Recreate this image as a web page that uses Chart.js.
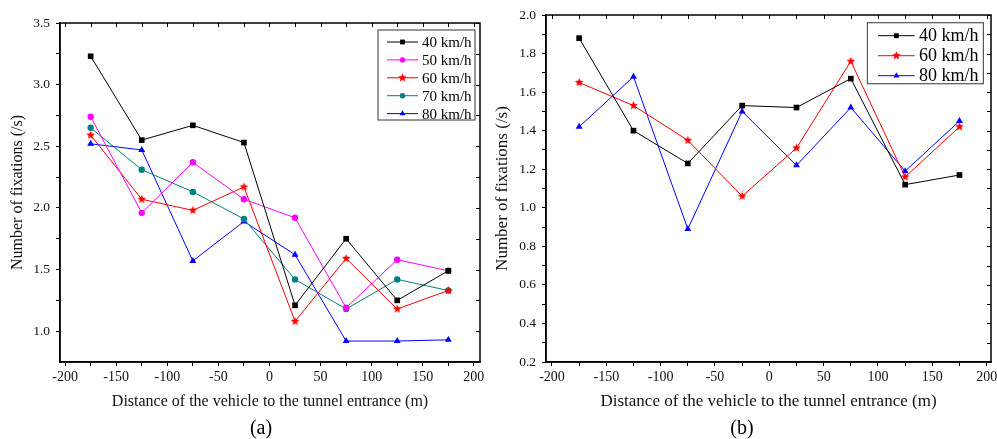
<!DOCTYPE html>
<html>
<head>
<meta charset="utf-8">
<script src="https://cdn.jsdelivr.net/npm/chart.js@4.4.1/dist/chart.umd.min.js"></script>
<style>
  html, body { margin: 0; padding: 0; background: #fff; overflow: hidden; }
  body { width: 997px; height: 439px; position: relative; }
  canvas { position: absolute; top: 0; }
  #chartA { left: 0; }
  #chartB { left: 490px; }
  .cap { position: absolute; top: 416px; line-height: 24px; font: 20px 'Liberation Serif', serif; transform: translateX(-50%); }
</style>
</head>
<body>
<canvas id="chartA" width="490" height="439"></canvas>
<canvas id="chartB" width="520" height="439"></canvas>
<div class="cap" style="left:261px">(a)</div>
<div class="cap" style="left:742px">(b)</div>
<script>
// distance of the vehicle to the tunnel entrance (m)
const distances = [-175, -125, -75, -25, 25, 75, 125, 175];

// panel (a): number of fixations (/s)
const fixA40 = [3.23, 2.55, 2.67, 2.53, 1.21, 1.75, 1.25, 1.49];
const fixA50 = [2.74, 1.96, 2.37, 2.07, 1.92, 1.19, 1.58, 1.49];
const fixA60 = [2.59, 2.07, 1.98, 2.17, 1.08, 1.59, 1.18, 1.33];
const fixA70 = [2.65, 2.31, 2.13, 1.91, 1.42, 1.18, 1.42, 1.33];
const fixA80 = [2.52, 2.47, 1.57, 1.89, 1.62, 0.92, 0.92, 0.93];

// panel (b)
const fixB40 = [1.88, 1.40, 1.23, 1.53, 1.52, 1.67, 1.12, 1.17];
const fixB60 = [1.65, 1.53, 1.35, 1.06, 1.31, 1.76, 1.16, 1.42];
const fixB80 = [1.42, 1.68, 0.89, 1.50, 1.22, 1.52, 1.19, 1.45];

// ticks (major ones get labels, the rest are minor marks)
const xTicks = [-200, -175, -150, -125, -100, -75, -50, -25, 0, 25, 50, 75, 100, 125, 150, 175, 200];
const yTicksA = [1.0, 1.25, 1.5, 1.75, 2.0, 2.25, 2.5, 2.75, 3.0, 3.25, 3.5];
const yTicksB = [0.2, 0.3, 0.4, 0.5, 0.6, 0.7, 0.8, 0.9, 1.0, 1.1, 1.2, 1.3, 1.4, 1.5, 1.6, 1.7, 1.8, 1.9, 2.0];

Chart.defaults.font.family = "'Liberation Serif', serif";
Chart.defaults.color = '#000';

function starImage(color, r) {
  const c = document.createElement('canvas');
  const size = Math.ceil(r * 2) + 2;
  c.width = c.height = size;
  const g = c.getContext('2d');
  g.fillStyle = color;
  g.beginPath();
  for (let k = 0; k < 10; k++) {
    const rr = k % 2 ? r * 0.45 : r;
    const a = -Math.PI / 2 + k * Math.PI / 5;
    const px = size / 2 + rr * Math.cos(a), py = size / 2 + rr * Math.sin(a);
    if (k) g.lineTo(px, py); else g.moveTo(px, py);
  }
  g.closePath();
  g.fill();
  return c;
}

const redStar = starImage('#ff0000', 4.5);

function series(label, values, color, style, radius) {
  return {
    label: label,
    data: distances.map((x, i) => ({ x: x, y: values[i] })),
    borderColor: color,
    backgroundColor: color,
    pointBackgroundColor: color,
    pointBorderColor: color,
    pointBorderWidth: 0,
    pointStyle: style,
    pointRadius: radius,
    borderWidth: 1,
    tension: 0
  };
}

function drawMarker(ctx, ds, x, y, r) {
  const s = ds.pointStyle;
  if (s instanceof HTMLCanvasElement) {
    ctx.drawImage(s, x - s.width / 2, y - s.height / 2);
    return;
  }
  ctx.fillStyle = ds.pointBackgroundColor;
  ctx.beginPath();
  if (s === 'rect') {
    const h = r * Math.SQRT1_2;
    ctx.rect(x - h, y - h, 2 * h, 2 * h);
  } else if (s === 'triangle') {
    ctx.moveTo(x, y - r);
    ctx.lineTo(x + r * 0.866, y + r * 0.5);
    ctx.lineTo(x - r * 0.866, y + r * 0.5);
    ctx.closePath();
  } else {
    ctx.arc(x, y, r, 0, Math.PI * 2);
  }
  ctx.fill();
}

// box around the plot plus inward ticks on top and right
const frame = {
  id: 'frame',
  afterDraw(chart) {
    const { ctx, chartArea: a, scales } = chart;
    ctx.save();
    ctx.strokeStyle = '#000';
    ctx.lineWidth = 1.5;
    ctx.strokeRect(a.left, a.top, a.right - a.left, a.bottom - a.top);
    ctx.lineWidth = 1;
    ctx.beginPath();
    scales.x.ticks.forEach(t => {
      const px = Math.round(scales.x.getPixelForValue(t.value)) + 0.5;
      ctx.moveTo(px, a.top);
      ctx.lineTo(px, a.top + 4);
    });
    scales.y.ticks.forEach(t => {
      const py = Math.round(scales.y.getPixelForValue(t.value)) + 0.5;
      ctx.moveTo(a.right, py);
      ctx.lineTo(a.right - 4, py);
    });
    ctx.stroke();
    ctx.restore();
  }
};

// legend box drawn inside the plot area, top right
const boxLegend = {
  id: 'boxLegend',
  afterDraw(chart, args, o) {
    const { ctx, chartArea } = chart;
    const left = chartArea.right - o.right - o.width;
    const top = chartArea.top + o.top;
    ctx.save();
    ctx.fillStyle = '#fff';
    ctx.fillRect(left, top, o.width, o.height);
    ctx.strokeStyle = '#555';
    ctx.lineWidth = 1.2;
    ctx.strokeRect(left, top, o.width, o.height);
    ctx.font = o.font;
    ctx.textBaseline = 'middle';
    chart.data.datasets.forEach((ds, i) => {
      const y = top + o.first + i * o.rowH;
      ctx.strokeStyle = ds.borderColor;
      ctx.lineWidth = 1;
      ctx.beginPath();
      ctx.moveTo(left + o.lineX0, y);
      ctx.lineTo(left + o.lineX1, y);
      ctx.stroke();
      drawMarker(ctx, ds, left + (o.lineX0 + o.lineX1) / 2, y, ds.pointRadius * 0.85);
      ctx.fillStyle = '#000';
      ctx.fillText(ds.label, left + o.textX, y + 1);
    });
    ctx.restore();
  }
};

function makeScales(c) {
  return {
    x: {
      type: 'linear',
      min: c.xMin,
      max: c.xMax,
      afterBuildTicks: s => { s.ticks = xTicks.map(v => ({ value: v })); },
      afterFit: s => { s.height = 52; },
      ticks: {
        autoSkip: false,
        maxRotation: 0,
        padding: 3,
        font: { size: 14 },
        color: '#111',
        callback: v => (v % 50 === 0 ? String(v) : '')
      },
      grid: { display: true, drawOnChartArea: false, drawTicks: true, tickLength: 4, tickColor: '#000', tickWidth: 1 },
      border: { display: true, color: '#000', width: 1.5 },
      title: {
        display: true,
        text: 'Distance of the vehicle to the tunnel entrance (m)',
        font: { size: c.titleSize },
        color: '#111',
        padding: { top: 2, bottom: c.xTitlePad }
      }
    },
    y: {
      type: 'linear',
      min: c.yMin,
      max: c.yMax,
      afterBuildTicks: s => { s.ticks = c.yTicks.map(v => ({ value: v })); },
      afterFit: s => { s.width = c.yWidth; },
      ticks: {
        autoSkip: false,
        padding: 6,
        font: { size: 13.5 },
        color: '#111',
        callback: v => {
          const m = v * c.majorPerUnit;
          return Math.abs(m - Math.round(m)) < 1e-6 ? v.toFixed(1) : '';
        }
      },
      grid: { display: true, drawOnChartArea: false, drawTicks: true, tickLength: 4, tickColor: '#000', tickWidth: 1 },
      border: { display: true, color: '#000', width: 1.5 },
      title: {
        display: true,
        text: 'Number of fixations (/s)',
        font: { size: c.titleSize },
        color: '#111',
        padding: { top: c.yTitlePad, bottom: 0 }
      }
    }
  };
}

new Chart(document.getElementById('chartA'), {
  type: 'line',
  data: {
    datasets: [
      series('40 km/h', fixA40, '#000000', 'rect', 4),
      series('50 km/h', fixA50, '#ff00ff', 'circle', 3.2),
      series('60 km/h', fixA60, '#ff0000', redStar, 4),
      series('70 km/h', fixA70, '#008080', 'circle', 3.2),
      series('80 km/h', fixA80, '#0000ff', 'triangle', 4)
    ]
  },
  options: {
    responsive: false,
    animation: false,
    devicePixelRatio: 1,
    layout: { padding: { left: 6, top: 23, right: 10, bottom: 25 } },
    scales: makeScales({ xMin: -205, xMax: 206, yMin: 0.75, yMax: 3.5, yTicks: yTicksA, majorPerUnit: 2, yWidth: 54, titleSize: 16, yTitlePad: 2.4, xTitlePad: 2.4 }),
    plugins: {
      legend: { display: false },
      tooltip: { enabled: false },
      boxLegend: { right: 5, top: 7, width: 97, height: 90, first: 12, rowH: 17.9, lineX0: 9, lineX1: 40, textX: 44, font: "15px 'Liberation Serif', serif" }
    }
  },
  plugins: [frame, boxLegend]
});

new Chart(document.getElementById('chartB'), {
  type: 'line',
  data: {
    datasets: [
      series('40 km/h', fixB40, '#000000', 'rect', 4),
      series('60 km/h', fixB60, '#ff0000', redStar, 4),
      series('80 km/h', fixB80, '#0000ff', 'triangle', 4)
    ]
  },
  options: {
    responsive: false,
    animation: false,
    devicePixelRatio: 1,
    layout: { padding: { left: 0, top: 15, right: 19, bottom: 25 } },
    scales: makeScales({ xMin: -205.5, xMax: 204, yMin: 0.2, yMax: 2.0, yTicks: yTicksB, majorPerUnit: 5, yWidth: 56, titleSize: 17, yTitlePad: 2, xTitlePad: 2 }),
    plugins: {
      legend: { display: false },
      tooltip: { enabled: false },
      boxLegend: { right: 7.6, top: 7.7, width: 116, height: 61, first: 13, rowH: 20, lineX0: 10.7, lineX1: 47.3, textX: 51.7, font: "18px 'Liberation Serif', serif" }
    }
  },
  plugins: [frame, boxLegend]
});
</script>
</body>
</html>
